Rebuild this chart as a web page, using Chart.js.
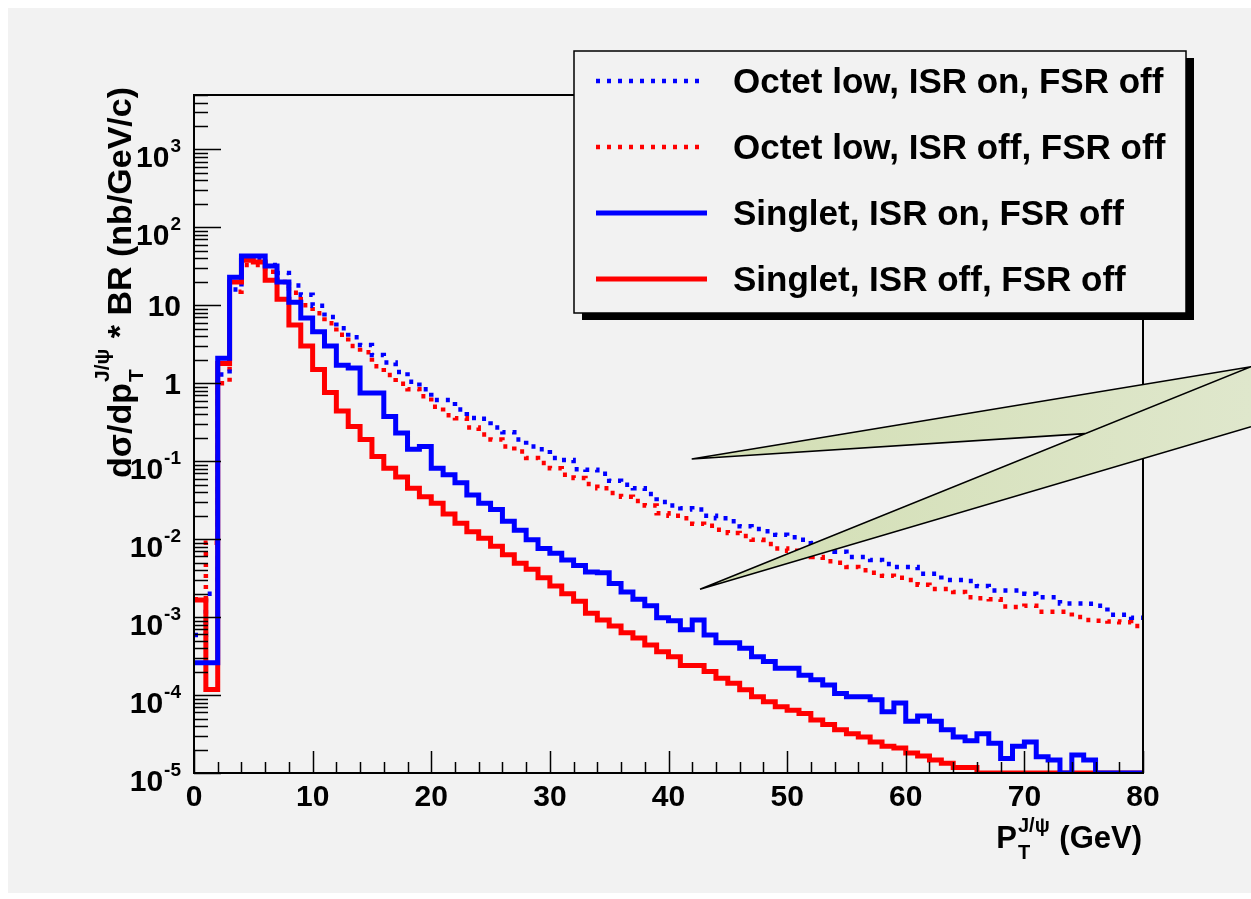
<!DOCTYPE html>
<html>
<head>
<meta charset="utf-8">
<title>J/psi pT spectrum</title>
<script src="https://cdn.jsdelivr.net/npm/chart.js@4.4.1/dist/chart.umd.min.js"></script>
<style>
  html, body { margin: 0; padding: 0; background: #ffffff; }
  #plot { position: absolute; left: 0; top: 0; }
</style>
</head>
<body>
<canvas id="plot" width="1251" height="899"></canvas>
<script>
// ============================================================
// dσ/dpT * BR for J/ψ — octet vs singlet, ISR on/off (ROOT style)
// ============================================================

// one value per 1 GeV bin, 0..80 GeV (0 = empty bin)
const binEdges = Array.from({ length: 81 }, (_, i) => i);

const octetIsrOn = [
  0.00059, 0.002, 1.3, 16, 40, 40, 33, 26, 18, 13.7,
  9.9, 7.1, 5.1, 3.9, 3.1, 2.3, 1.85, 1.4, 1.05, 0.84,
  0.61, 0.61, 0.46, 0.36, 0.35, 0.27, 0.235, 0.19, 0.155, 0.143,
  0.11, 0.104, 0.079, 0.078, 0.069, 0.056, 0.050, 0.045, 0.038, 0.030,
  0.027, 0.025, 0.024, 0.020, 0.0185, 0.017, 0.0146, 0.0135, 0.0126, 0.0114,
  0.0106, 0.0098, 0.0089, 0.0079, 0.0069, 0.0059, 0.0059, 0.0054, 0.0048, 0.0044,
  0.0044, 0.0036, 0.0036, 0.0030, 0.0030, 0.0029, 0.0025, 0.0022, 0.0022, 0.0022,
  0.0020, 0.0018, 0.0018, 0.0015, 0.0015, 0.00148, 0.0014, 0.00107, 0.00107, 0.00098,
];

const octetIsrOff = [
  0.0017, 0.009, 1.0, 15, 33, 33, 27, 20, 14.5, 10,
  7.9, 5.9, 4.2, 3.0, 2.5, 1.65, 1.28, 0.99, 0.84, 0.68,
  0.50, 0.39, 0.355, 0.27, 0.22, 0.19, 0.155, 0.133, 0.11, 0.095,
  0.081, 0.067, 0.061, 0.051, 0.045, 0.039, 0.035, 0.031, 0.027, 0.0215,
  0.020, 0.0185, 0.0158, 0.0149, 0.0132, 0.0120, 0.0110, 0.0098, 0.0087, 0.0076,
  0.0071, 0.0066, 0.0059, 0.0052, 0.0050, 0.0044, 0.0040, 0.0037, 0.0034, 0.0032,
  0.0030, 0.0026, 0.0023, 0.0023, 0.0021, 0.0018, 0.00174, 0.0017, 0.00137, 0.00135,
  0.0014, 0.00117, 0.00117, 0.00117, 0.0010, 0.00092, 0.0009, 0.00088, 0.00086, 0.00077,
];

const singletIsrOn = [
  0.00026, 0.00026, 2.1, 23, 43, 43, 32, 20, 11, 6.9,
  4.6, 3.0, 1.7, 1.57, 0.75, 0.75, 0.375, 0.23, 0.143, 0.155,
  0.081, 0.067, 0.053, 0.037, 0.029, 0.024, 0.017, 0.013, 0.0098, 0.0076,
  0.0066, 0.0054, 0.0046, 0.0038, 0.0037, 0.0027, 0.0021, 0.0017, 0.0014, 0.00098,
  0.0009, 0.00069, 0.00092, 0.00059, 0.00047, 0.00047, 0.00040, 0.00031, 0.00027, 0.00022,
  0.00022, 0.00018, 0.000157, 0.000135, 0.000105, 0.000095, 0.000095, 0.000087, 0.000061, 0.000079,
  0.000046, 0.000054, 0.000046, 0.000036, 0.000029, 0.000026, 0.000032, 0.000024, 0.0000154, 0.000022,
  0.000025, 0.0000162, 0.0000147, 0, 0.000017, 0.0000147, 0, 0, 0, 0,
];

const singletIsrOff = [
  0.00166, 0.000118, 1.8, 20, 38, 36, 21, 12, 5.6, 3.0,
  1.5, 0.76, 0.44, 0.28, 0.19, 0.115, 0.081, 0.063, 0.045, 0.035,
  0.029, 0.021, 0.016, 0.0125, 0.0103, 0.0081, 0.0063, 0.0049, 0.0041, 0.0032,
  0.0025, 0.0020, 0.0016, 0.00112, 0.00092, 0.00077, 0.00063, 0.00054, 0.00044, 0.00036,
  0.00031, 0.00024, 0.00024, 0.00020, 0.000164, 0.000142, 0.000117, 0.000095, 0.000082, 0.000071,
  0.000064, 0.000058, 0.000048, 0.000042, 0.000036, 0.000032, 0.000029, 0.000025, 0.000022, 0.000021,
  0.000018, 0.0000165, 0.0000147, 0.0000133, 0.0000118, 0.0000118, 0, 0, 0, 0,
  0, 0, 0, 0, 0, 0, 0, 0, 0, 0,
];

const seriesLabels = [
  'Octet low, ISR on, FSR off',
  'Octet low, ISR off, FSR off',
  'Singlet, ISR on, FSR off',
  'Singlet, ISR off, FSR off',
];

const xTickValues = [0, 10, 20, 30, 40, 50, 60, 70, 80];
const yDecades = [-5, -4, -3, -2, -1, 0, 1, 2, 3];

const Y_MIN = 1e-5;
const Y_MAX = 5000;
const FONT = '"Liberation Sans", Arial, Helvetica, sans-serif';
const BLUE = '#0000ff';
const RED = '#ff0000';

// histogram outline: each bin becomes a flat segment, neighbours joined vertically
function histPoints(values) {
  const pts = [];
  values.forEach((v, i) => {
    const y = v > 0 ? v : Y_MIN; // empty bins lie on the axis floor, as in ROOT
    pts.push({ x: binEdges[i], y }, { x: binEdges[i + 1], y });
  });
  return pts;
}

function lineDataset(label, values, color, dotted, order) {
  return {
    label,
    data: histPoints(values),
    borderColor: color,
    backgroundColor: color,
    borderWidth: dotted ? 4.5 : 5,
    borderDash: dotted ? [4, 7] : [],
    borderCapStyle: 'butt',
    borderJoinStyle: 'miter',
    pointRadius: 0,
    tension: 0,
    fill: false,
    order,
  };
}

// ---- background panel, frame, ticks, axis text, legend, callout ----
function drawFrame(ctx, area, xs, ys) {
  ctx.save();
  ctx.strokeStyle = '#000';
  ctx.lineWidth = 2;
  ctx.strokeRect(area.left, area.top, area.right - area.left, area.bottom - area.top);

  ctx.lineWidth = 1.5;
  ctx.beginPath();
  for (let v = 0; v <= 80; v += 2) {
    const x = Math.round(xs.getPixelForValue(v)) + 0.5;
    const len = v % 10 === 0 ? 22 : 11;
    ctx.moveTo(x, area.bottom);
    ctx.lineTo(x, area.bottom - len);
  }
  yDecades.forEach(k => {
    for (let m = 1; m <= 9; m++) {
      const v = m * Math.pow(10, k);
      if (v > Y_MAX * 1.0001) break;
      const y = Math.round(ys.getPixelForValue(v)) + 0.5;
      const len = m === 1 ? 27 : 14;
      ctx.moveTo(area.left, y);
      ctx.lineTo(area.left + len, y);
    }
  });
  ctx.stroke();
  ctx.restore();
}

function drawYLabels(ctx, area, ys) {
  ctx.save();
  ctx.fillStyle = '#000';
  ctx.textAlign = 'right';
  ctx.textBaseline = 'alphabetic';
  const xRight = area.left - 13;
  yDecades.forEach(k => {
    const y = ys.getPixelForValue(Math.pow(10, k));
    if (k === 0 || k === 1) {
      ctx.font = `bold 30px ${FONT}`;
      ctx.fillText(k === 0 ? '1' : '10', xRight, y + 11);
    } else {
      const exp = String(k);
      ctx.font = `bold 19px ${FONT}`;
      const ew = ctx.measureText(exp).width;
      ctx.fillText(exp, xRight, y + 3);
      ctx.font = `bold 30px ${FONT}`;
      ctx.fillText('10', xRight - ew - 1, y + 18);
    }
  });
  ctx.restore();
}

function drawYTitle(ctx) {
  ctx.save();
  ctx.fillStyle = '#000';
  ctx.translate(131, 478);
  ctx.rotate(-Math.PI / 2);
  ctx.textAlign = 'left';
  ctx.textBaseline = 'alphabetic';
  let x = 0;
  ctx.font = `bold 34px ${FONT}`;
  ctx.fillText('dσ/dp', x, 0);
  x += ctx.measureText('dσ/dp').width;
  ctx.font = `bold 21px ${FONT}`;
  ctx.fillText('T', x + 1, 12);
  ctx.fillText('J/ψ', x + 1, -22);
  x += ctx.measureText('J/ψ').width + 2;
  ctx.font = `bold 34px ${FONT}`;
  ctx.fillText(' * BR (nb/GeV/c)', x, 0);
  ctx.restore();
}

function drawXTitle(ctx, area) {
  ctx.save();
  ctx.fillStyle = '#000';
  ctx.textAlign = 'left';
  ctx.textBaseline = 'alphabetic';
  const base = 848;
  ctx.font = `bold 31px ${FONT}`;
  const wP = ctx.measureText('P').width;
  const wRest = ctx.measureText(' (GeV)').width;
  ctx.font = `bold 20px ${FONT}`;
  const wSup = ctx.measureText('J/ψ').width;
  let x = area.right - 1 - (wP + wSup + 2 + wRest);
  ctx.font = `bold 31px ${FONT}`;
  ctx.fillText('P', x, base);
  x += wP;
  ctx.font = `bold 20px ${FONT}`;
  ctx.fillText('T', x + 1, base + 11);
  ctx.fillText('J/ψ', x + 1, base - 16);
  x += wSup + 2;
  ctx.font = `bold 31px ${FONT}`;
  ctx.fillText(' (GeV)', x, base);
  ctx.restore();
}

// slide annotation pasted over the figure (pixel space, not data)
const calloutTip1 = [691.7, 459];
const calloutTip2 = [700, 589.3];
const calloutJoin = [1085, 433.6];
const calloutEdgeTop = [1251, 366.7];
const calloutEdgeLow = [1251, 426.7];

function drawCallout(ctx) {
  ctx.save();
  const g = ctx.createLinearGradient(690, 0, 1251, 0);
  g.addColorStop(0, '#d2deb3');
  g.addColorStop(1, '#dfe7cc');
  ctx.fillStyle = g;
  ctx.beginPath();
  ctx.moveTo(...calloutTip1);
  ctx.lineTo(...calloutEdgeTop);
  ctx.lineTo(...calloutEdgeLow);
  ctx.lineTo(...calloutTip2);
  ctx.lineTo(...calloutJoin);
  ctx.closePath();
  ctx.fill();

  ctx.strokeStyle = '#000';
  ctx.lineWidth = 1.6;
  ctx.beginPath();
  ctx.moveTo(...calloutTip1); ctx.lineTo(...calloutEdgeTop);
  ctx.moveTo(...calloutTip1); ctx.lineTo(...calloutJoin);
  ctx.moveTo(...calloutTip2); ctx.lineTo(...calloutEdgeTop);
  ctx.moveTo(...calloutTip2); ctx.lineTo(...calloutEdgeLow);
  ctx.stroke();
  ctx.restore();
}

function drawLegend(ctx, chart) {
  const box = { x: 574, y: 51, w: 612, h: 262 };
  ctx.save();
  ctx.fillStyle = '#000';
  ctx.fillRect(box.x + 8, box.y + 7, box.w, box.h);
  ctx.fillStyle = '#f2f2f2';
  ctx.fillRect(box.x, box.y, box.w, box.h);
  ctx.strokeStyle = '#000';
  ctx.lineWidth = 1.5;
  ctx.strokeRect(box.x, box.y, box.w, box.h);

  const rowY = [81, 147, 213, 279];
  chart.data.datasets.forEach((ds, i) => {
    const y = rowY[i];
    ctx.strokeStyle = ds.borderColor;
    ctx.lineWidth = ds.borderWidth;
    ctx.setLineDash(ds.borderDash);
    ctx.lineCap = 'butt';
    ctx.beginPath();
    ctx.moveTo(596, y);
    ctx.lineTo(ds.borderDash.length ? 702 : 707, y);
    ctx.stroke();
    ctx.setLineDash([]);
    ctx.fillStyle = '#000';
    ctx.font = `bold 35px ${FONT}`;
    ctx.textAlign = 'left';
    ctx.textBaseline = 'alphabetic';
    ctx.fillText(ds.label, 733, y + 12);
  });
  ctx.restore();
}

const rootStyle = {
  id: 'rootStyle',
  beforeDraw(chart) {
    const ctx = chart.ctx;
    ctx.save();
    ctx.fillStyle = '#ffffff';
    ctx.fillRect(0, 0, chart.width, chart.height);
    ctx.fillStyle = '#f2f2f2';
    ctx.fillRect(8, 8, chart.width - 8, 885);
    ctx.restore();
  },
  afterDatasetsDraw(chart) {
    const { ctx, chartArea, scales } = chart;
    drawFrame(ctx, chartArea, scales.x, scales.y);
    drawYLabels(ctx, chartArea, scales.y);
    drawYTitle(ctx);
    drawXTitle(ctx, chartArea);
  },
  afterDraw(chart) {
    drawCallout(chart.ctx);
    drawLegend(chart.ctx, chart);
  },
};

new Chart(document.getElementById('plot'), {
  type: 'line',
  data: {
    datasets: [
      lineDataset(seriesLabels[0], octetIsrOn, BLUE, true, 2),
      lineDataset(seriesLabels[1], octetIsrOff, RED, true, 3),
      lineDataset(seriesLabels[2], singletIsrOn, BLUE, false, 0),
      lineDataset(seriesLabels[3], singletIsrOff, RED, false, 1),
    ],
  },
  options: {
    responsive: false,
    animation: false,
    devicePixelRatio: 1,
    layout: { padding: { top: 95, right: 108, left: 0, bottom: 0 } },
    plugins: { legend: { display: false }, tooltip: { enabled: false } },
    scales: {
      x: {
        type: 'linear',
        min: 0,
        max: 80,
        afterFit: s => { s.height = 126; },
        afterBuildTicks: s => { s.ticks = xTickValues.map(v => ({ value: v })); },
        ticks: {
          color: '#000',
          padding: 7,
          maxRotation: 0,
          autoSkip: false,
          font: { family: FONT, size: 30, weight: 'bold' },
        },
        grid: { display: false, drawTicks: false },
        border: { display: false },
      },
      y: {
        type: 'logarithmic',
        min: Y_MIN,
        max: Y_MAX,
        afterFit: s => { s.width = 194; },
        ticks: { display: false },
        grid: { display: false, drawTicks: false },
        border: { display: false },
      },
    },
  },
  plugins: [rootStyle],
});
</script>
</body>
</html>
